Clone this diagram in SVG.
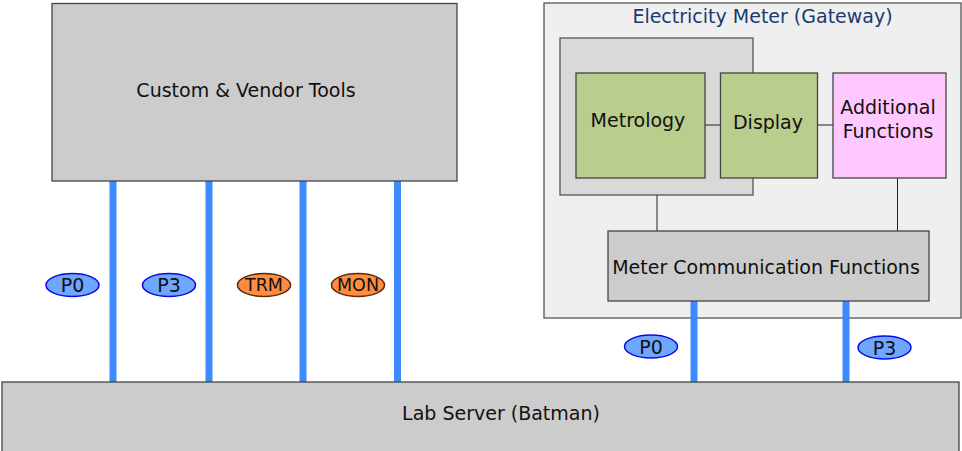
<svg xmlns="http://www.w3.org/2000/svg" width="962" height="451" viewBox="0 0 962 451">
<style>
text{font-family:"DejaVu Sans",sans-serif;font-size:19px;fill:#111;text-anchor:middle;dominant-baseline:central}
.box{fill:#cccccc;stroke:#444;stroke-width:1.3}
.green{fill:#b9cd8c;stroke:#444;stroke-width:1.3}
.bus{stroke:#3b8bff;stroke-width:7;fill:none}
.thin{stroke:#222;stroke-width:1;fill:none}
.pb{fill:#6fa6ff;stroke:#0a0ae6;stroke-width:1.5}
.po{fill:#ff8c3f;stroke:#5a2a0a;stroke-width:1.5}
.lbl{font-size:19px}
.lbs{font-size:17.5px}
</style>
<g id="meter">
<rect x="544" y="3" width="417" height="315" fill="#efefef" stroke="#555" stroke-width="1.3"/>
<text x="762.5" y="16" style="fill:#1b3a70">Electricity Meter (Gateway)</text>
</g>
<g id="metro-group">
<rect x="560" y="38" width="193" height="157" fill="#d9d9d9" stroke="#555" stroke-width="1.3"/>
</g>
<g id="connectors">
<line class="bus" x1="113" y1="181" x2="113" y2="382"/>
<line class="bus" x1="209" y1="181" x2="209" y2="382"/>
<line class="bus" x1="303" y1="181" x2="303" y2="382"/>
<line class="bus" x1="397.5" y1="181" x2="397.5" y2="382"/>
<line class="bus" x1="694" y1="301" x2="694" y2="382"/>
<line class="bus" x1="846" y1="301" x2="846" y2="382"/>
<line class="thin" x1="705" y1="125" x2="720" y2="125"/>
<line class="thin" x1="817" y1="125" x2="833" y2="125"/>
<line class="thin" x1="657" y1="195" x2="657" y2="231"/>
<line class="thin" x1="897.5" y1="178" x2="897.5" y2="231"/>
</g>
<g id="tools">
<rect class="box" x="52" y="3.5" width="405" height="177.5"/>
<text x="246" y="90">Custom &amp; Vendor Tools</text>
</g>
<g id="metrology">
<rect class="green" x="576" y="73" width="129" height="105"/>
<text x="638" y="120">Metrology</text>
</g>
<g id="display">
<rect class="green" x="720.5" y="73" width="97" height="105"/>
<text x="768" y="122">Display</text>
</g>
<g id="additional">
<rect x="833" y="73" width="113" height="105" fill="#ffc8ff" stroke="#444" stroke-width="1.3"/>
<text x="888" y="107">Additional</text>
<text x="888" y="131">Functions</text>
</g>
<g id="comm">
<rect class="box" x="608" y="231" width="321" height="70"/>
<text x="766" y="267">Meter Communication Functions</text>
</g>
<g id="labserver">
<rect class="box" x="2" y="382" width="957" height="70"/>
<text x="501" y="412.5">Lab Server (Batman)</text>
</g>
<g id="labels">
<ellipse class="pb" cx="72.5" cy="285" rx="26.5" ry="11.5"/>
<text class="lbl" x="72.5" y="285">P0</text>
<ellipse class="pb" cx="169" cy="285" rx="26.5" ry="11.5"/>
<text class="lbl" x="169" y="285">P3</text>
<ellipse class="po" cx="264" cy="285" rx="26.5" ry="11.5"/>
<text class="lbs" x="264" y="285">TRM</text>
<ellipse class="po" cx="358" cy="285" rx="26.5" ry="11.5"/>
<text class="lbs" x="358" y="285">MON</text>
<ellipse class="pb" cx="651" cy="346.5" rx="26.5" ry="11.5"/>
<text class="lbl" x="651" y="346.5">P0</text>
<ellipse class="pb" cx="884.5" cy="347.5" rx="26.5" ry="11.5"/>
<text class="lbl" x="884.5" y="347.5">P3</text>
</g>
</svg>
